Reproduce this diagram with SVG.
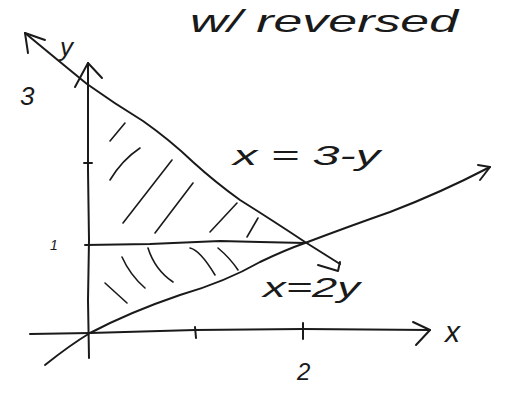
<svg xmlns="http://www.w3.org/2000/svg" width="507" height="402" viewBox="0 0 507 402">
<style>
.s{fill:none;stroke:#1a1a1a;stroke-width:2;stroke-linecap:round;stroke-linejoin:round}
.h{fill:none;stroke:#1a1a1a;stroke-width:1.6;stroke-linecap:round}
.t{font-family:"Liberation Sans",Arial,sans-serif;fill:#1a1a1a;font-style:italic}
</style>
<rect width="507" height="402" fill="#fff"/>
<g id="axes">
<path class="s" d="M89 358 L88 300 L89 240 L88 170 L88 63"/>
<path class="s" d="M75 87 L88 63 L102 78"/>
<path class="s" d="M30 334 L90 333 L195 330 L303 329 L430 330"/>
<path class="s" d="M413 322 L430 330 L416 345"/>
<path class="s" d="M195 327 L196 338"/>
<path class="s" d="M303 323 L303 339"/>
<path class="s" d="M84 163 L92 163"/>
</g>
<g id="lines">
<path class="s" d="M25 33 Q60 62 87 84 Q115 104 143 121 Q170 140 193 162 Q215 182 240 200 Q275 222 305 242 L340 264"/>
<path class="s" d="M28 53 L25 33 L45 40"/>
<path class="s" d="M318 265 L338 271 L340 262"/>
<path class="s" d="M85 245 L150 244 L220 241 L260 242 L305 243"/>
<path class="s" d="M45 365 Q70 345 90 333 Q130 312 180 295 Q225 282 260 262 Q285 250 305 243 Q350 226 390 212 Q440 193 490 167"/>
<path class="s" d="M478 165 L490 167 L480 180"/>
</g>
<g id="hatching">
<path class="h" d="M110 141 L125 123"/>
<path class="h" d="M110 180 Q122 160 140 148"/>
<path class="h" d="M123 223 L172 160"/>
<path class="h" d="M155 233 L193 183"/>
<path class="h" d="M210 232 L237 203"/>
<path class="h" d="M247 237 L258 218"/>
<path class="h" d="M122 257 Q130 275 145 288"/>
<path class="h" d="M148 248 Q155 270 173 282"/>
<path class="h" d="M190 248 Q200 250 215 275"/>
<path class="h" d="M218 248 Q230 258 238 270"/>
<path class="h" d="M105 283 L127 303"/>
</g>
<g id="labels">
<text class="t" x="190" y="32" font-size="32" textLength="268" lengthAdjust="spacingAndGlyphs">w/ reversed</text>
<text class="t" x="233" y="165" font-size="28" textLength="147" lengthAdjust="spacingAndGlyphs">x = 3-y</text>
<text class="t" x="263" y="297" font-size="28" textLength="97" lengthAdjust="spacingAndGlyphs">x=2y</text>
<text class="t" x="445" y="342" font-size="30">x</text>
<text class="t" x="297" y="380" font-size="24">2</text>
<text class="t" x="50" y="250" font-size="14">1</text>
<text class="t" x="20" y="105" font-size="26">3</text>
<text class="t" x="60" y="56" font-size="26">y</text>
</g>
</svg>
